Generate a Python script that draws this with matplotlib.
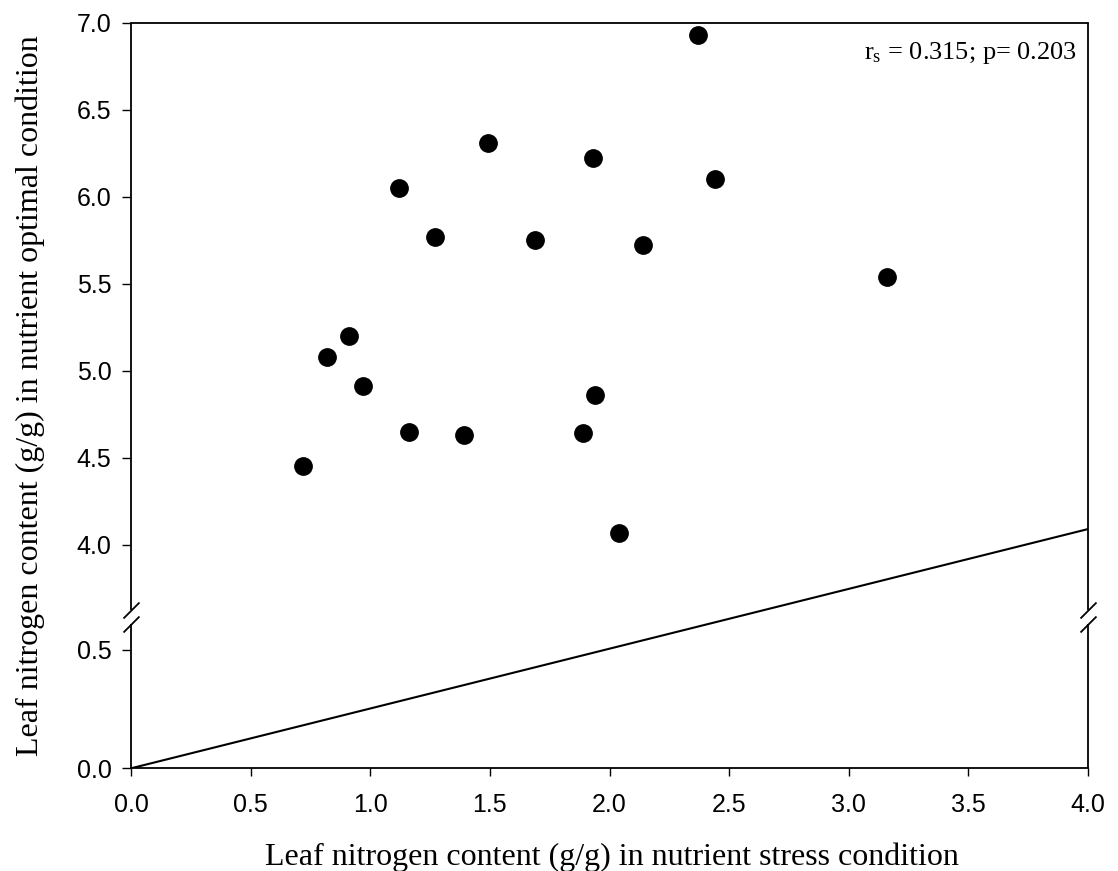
import numpy as np
import matplotlib
matplotlib.use("Agg")
import matplotlib.pyplot as plt
from matplotlib.path import Path

# ---- data ----
x_stress = [0.72, 0.82, 0.91, 0.97, 1.12, 1.16, 1.27, 1.39, 1.49, 1.69,
            1.89, 1.93, 1.94, 2.04, 2.14, 2.37, 2.44, 3.16]
y_optimal = [4.45, 5.08, 5.20, 4.91, 6.05, 4.65, 5.77, 4.63, 6.31, 5.75,
             4.64, 6.22, 4.86, 4.07, 5.72, 6.93, 6.10, 5.54]
ref_x = [0.0, 4.0]
ref_y = [0.0, 4.09]
xticks = [0.0, 0.5, 1.0, 1.5, 2.0, 2.5, 3.0, 3.5, 4.0]
yticks = [0.0, 0.5, 4.0, 4.5, 5.0, 5.5, 6.0, 6.5, 7.0]
xlabel = "Leaf nitrogen content (g/g) in nutrient stress condition"
ylabel = "Leaf nitrogen content (g/g) in nutrient optimal condition"
annotation = r"r$_{\mathrm{s}}$ = 0.315; p= 0.203"

# ---- broken y axis as a piecewise-linear scale ----
LO_TOP, HI_BOT = 0.61, 3.625   # break limits
K = 1.36                       # lower segment stretch relative to upper
GAP = 0.0805                   # visual gap (upper-segment units)
T1 = LO_TOP * K
T2 = T1 + GAP


def fwd(y):
    y = np.asarray(y, float)
    return np.where(y <= LO_TOP, y * K,
                    np.where(y >= HI_BOT, T2 + (y - HI_BOT),
                             T1 + (y - LO_TOP) / (HI_BOT - LO_TOP) * GAP))


def inv(t):
    t = np.asarray(t, float)
    return np.where(t <= T1, t / K,
                    np.where(t >= T2, HI_BOT + (t - T2),
                             LO_TOP + (t - T1) / GAP * (HI_BOT - LO_TOP)))


plt.rcParams["mathtext.fontset"] = "custom"
plt.rcParams["mathtext.rm"] = "Liberation Serif"
plt.rcParams["mathtext.it"] = "Liberation Serif:italic"

fig = plt.figure(figsize=(11.18, 8.71), dpi=100)
ax = fig.add_axes([0.1172, 0.1179, 0.9732 - 0.1172, 0.9739 - 0.1179])
ax.set_yscale("function", functions=(fwd, inv))
ax.set_xlim(0, 4)
ax.set_ylim(0, 7)

ax.plot(ref_x, ref_y, color="black", lw=1.5)
ax.plot(x_stress, y_optimal, "o", color="black", ms=12.5, ls="none")

# spines: top and bottom normal, left/right drawn with a gap
for s in ("left", "right"):
    ax.spines[s].set_visible(False)
for s in ("top", "bottom"):
    ax.spines[s].set_linewidth(1.3)
yt = ax.get_yaxis_transform()
for xs in (0, 1):
    ax.plot([xs, xs], [0, LO_TOP], color="black", lw=1.3, transform=yt,
            clip_on=False, solid_capstyle="butt")
    ax.plot([xs, xs], [HI_BOT, 7], color="black", lw=1.3, transform=yt,
            clip_on=False, solid_capstyle="butt")
slash = Path([(-1, -1), (1, 1)])
for xs in (0, 1):
    ax.plot([xs, xs], [LO_TOP, HI_BOT], ls="none", marker=slash, ms=11.5,
            mew=1.3, mec="black", transform=yt, clip_on=False)

ax.set_xticks(xticks)
ax.set_yticks(yticks)
ax.set_xticklabels([f"{v:.1f}" for v in xticks])
ax.set_yticklabels([f"{v:.1f}" for v in yticks])
ax.tick_params(axis="x", direction="out", length=6, width=1.0, pad=12,
               labelsize=18, top=False)
ax.tick_params(axis="y", direction="out", length=6.5, width=1.0, pad=7.5,
               labelsize=18, right=False)
for lab in ax.get_xticklabels() + ax.get_yticklabels():
    lab.set_fontfamily("Liberation Sans")

ax.set_xlabel(xlabel, fontsize=23, fontfamily="Liberation Serif")
ax.set_ylabel(ylabel, fontsize=23, fontfamily="Liberation Serif")
ax.xaxis.set_label_coords(0.502, -0.1)
ax.yaxis.set_label_coords(-0.0899, 0.5)

ax.text(0.9885, 0.951, annotation, transform=ax.transAxes, ha="right",
        va="baseline", fontsize=19, fontfamily="Liberation Serif")

fig.savefig("out.png", dpi=100)
